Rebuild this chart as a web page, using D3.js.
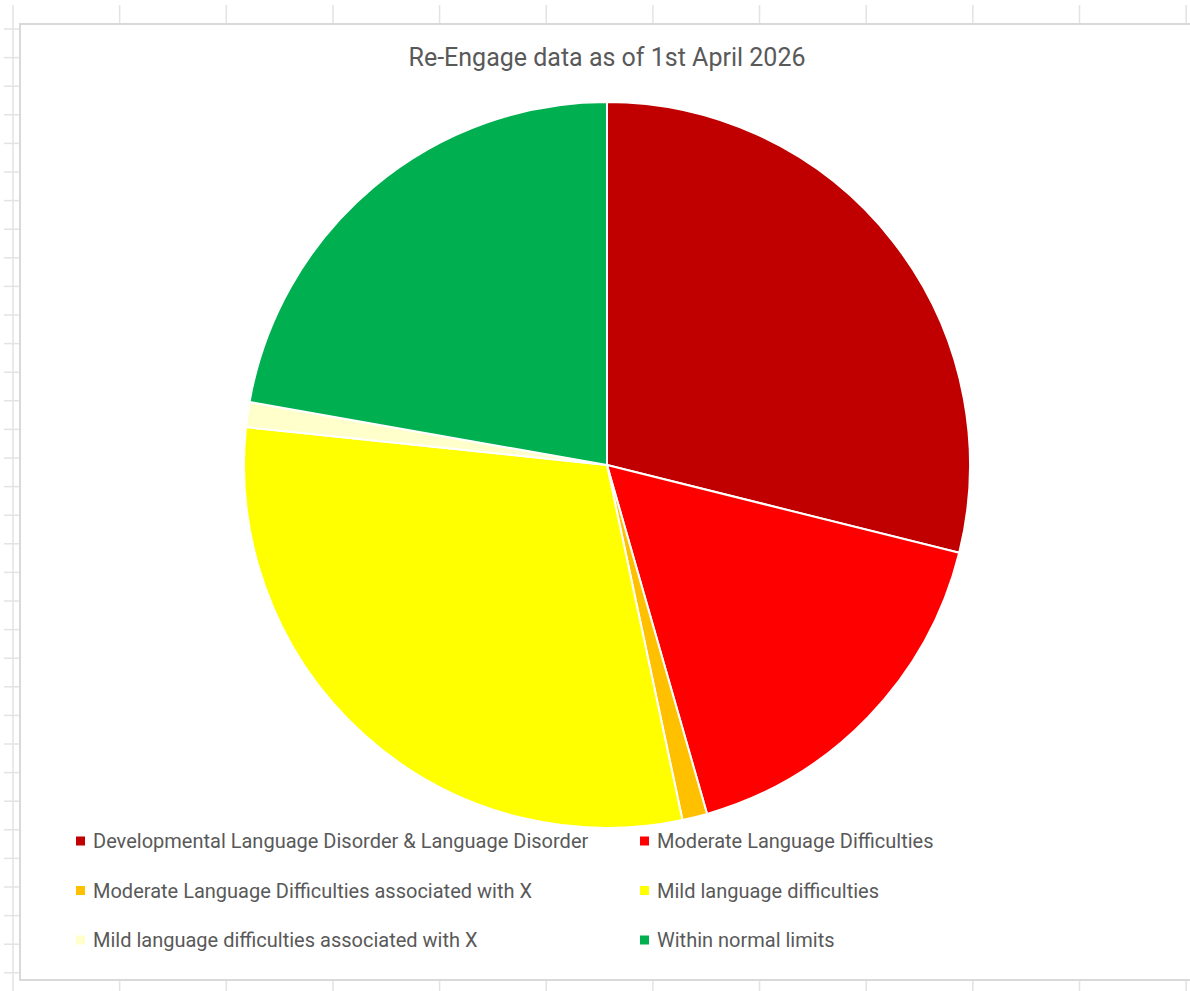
<!DOCTYPE html>
<html>
<head>
<meta charset="utf-8">
<script src="https://cdn.jsdelivr.net/npm/d3@7"></script>
<style>
  body { margin: 0; background: #fff; }
  text { font-family: Roboto, "Open Sans", sans-serif; fill: #595959; }
</style>
</head>
<body>
<div id="chart"></div>
<script>
// chart data
var categories = [
  "Developmental Language Disorder & Language Disorder",
  "Moderate Language Difficulties",
  "Moderate Language Difficulties associated with X",
  "Mild language difficulties",
  "Mild language difficulties associated with X",
  "Within normal limits"
];
var counts = [26, 15, 1, 27, 1, 20];
var colours = ["#c00000", "#ff0000", "#ffc000", "#ffff00", "#ffffcc", "#00b050"];
var title = "Re-Engage data as of 1st April 2026";

var W = 1190, H = 991;
var svg = d3.select("#chart").append("svg").attr("width", W).attr("height", H);

// spreadsheet grid behind the chart
var colX = d3.range(12).map(function(i) { return 13 + i * 106.65; });
var rowY = d3.range(34).map(function(i) { return 29 + i * 28.6; });
svg.selectAll(".gx").data(colX).enter().append("line")
  .attr("x1", function(d) { return d; }).attr("x2", function(d) { return d; })
  .attr("y1", 5).attr("y2", H)
  .style("stroke", "#e3e3e3").style("stroke-width", 1.5);
svg.selectAll(".gy").data(rowY).enter().append("line")
  .attr("x1", 4).attr("x2", 20)
  .attr("y1", function(d) { return d; }).attr("y2", function(d) { return d; })
  .style("stroke", "#e3e3e3").style("stroke-width", 1.5);

// chart area
svg.append("rect")
  .attr("x", 20).attr("y", 24).attr("width", W + 10).attr("height", 956)
  .style("fill", "#fff").style("stroke", "#d9d9d9").style("stroke-width", 2);

svg.append("text")
  .attr("x", 607).attr("y", 66)
  .style("text-anchor", "middle").style("font-size", "25px")
  .text(title);

// pie
var cx = 607, cy = 465, r = 363;
var pie = d3.pie().sort(null).value(function(d) { return d; });
var arc = d3.arc().innerRadius(0).outerRadius(r);
var g = svg.append("g").attr("transform", "translate(" + cx + "," + cy + ")");
g.selectAll("path")
  .data(pie(counts))
  .enter().append("path")
    .attr("d", arc)
    .style("fill", function(d, i) { return colours[i]; })
    .style("stroke", "#fff")
    .style("stroke-width", 2)
    .style("stroke-linejoin", "round");

// legend, two columns
var legX = [76, 640], legY = [841, 890.5, 940];
var leg = svg.selectAll(".leg").data(categories).enter().append("g")
  .attr("transform", function(d, i) {
    return "translate(" + legX[i % 2] + "," + legY[Math.floor(i / 2)] + ")";
  });
leg.append("rect")
  .attr("x", 0).attr("y", -4.5).attr("width", 9).attr("height", 9)
  .style("fill", function(d, i) { return colours[i]; });
leg.append("text")
  .attr("x", 17).attr("y", 7)
  .style("font-size", "20px")
  .text(function(d) { return d; });
</script>
</body>
</html>
